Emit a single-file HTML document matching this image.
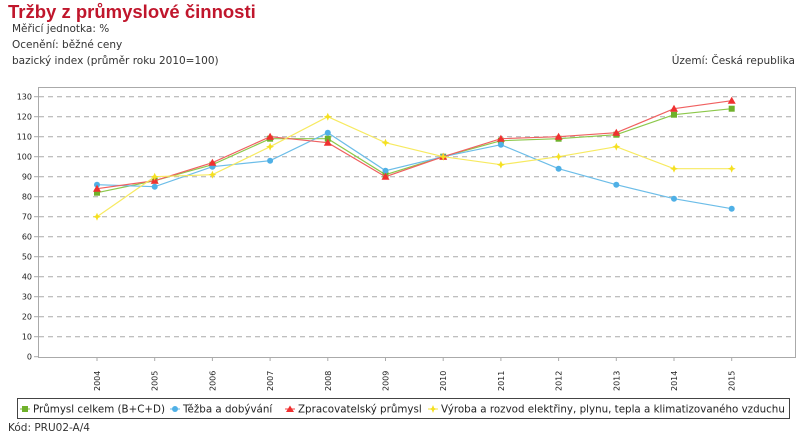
<!DOCTYPE html>
<html><head><meta charset="utf-8"><style>
body{margin:0;width:800px;height:438px;background:#fff;font-family:"DejaVu Sans","Liberation Sans",sans-serif;overflow:hidden}
</style></head><body>
<svg width="800" height="438" xmlns="http://www.w3.org/2000/svg" font-family="DejaVu Sans, Liberation Sans, sans-serif">
<text x="8" y="18" font-size="18.5" font-weight="bold" fill="#c0162c" font-family="Liberation Sans, sans-serif">Tržby z průmyslové činnosti</text>
<text x="12" y="32" font-size="10.5" fill="#333">Měřicí jednotka: %</text>
<text x="12" y="48" font-size="10.5" fill="#333">Ocenění: běžné ceny</text>
<text x="12" y="64" font-size="10.5" fill="#333">bazický index (průměr roku 2010=100)</text>
<text x="795" y="64" font-size="10.5" fill="#333" text-anchor="end">Území: Česká republika</text>
<rect x="38.5" y="87.5" width="757" height="270" fill="none" stroke="#aaa"/>
<g stroke="#aaa" stroke-dasharray="5,4" id="grid"></g>
<g font-size="8" fill="#222" text-anchor="end" id="yl"></g>
<g font-size="8" fill="#222" id="xl"></g>
<g id="series"></g>
<rect x="17.5" y="398.5" width="772" height="20" fill="none" stroke="#444"/>
<g font-size="10.3" fill="#222">
<line x1="20" y1="409" x2="30" y2="409" stroke="#7ab730"/><rect x="22" y="406" width="6" height="6" fill="#6fb12a"/>
<text x="33" y="412.5">Průmysl celkem (B+C+D)</text>
<line x1="170" y1="409" x2="180" y2="409" stroke="#5db4e4"/><circle cx="175" cy="409" r="3" fill="#4fb0e6"/>
<text x="183" y="412.5">Těžba a dobývání</text>
<line x1="285" y1="409" x2="295" y2="409" stroke="#f04040"/><polygon points="290,405.5 294,412 286,412" fill="#f03030"/>
<text x="298" y="412.5">Zpracovatelský průmysl</text>
<line x1="428" y1="409" x2="438" y2="409" stroke="#f5e43a"/><polygon points="433,405 434.2,408 437,409 434.2,410 433,413 431.8,410 429,409 431.8,408" fill="#f5e020"/>
<text x="441" y="412.5">Výroba a rozvod elektřiny, plynu, tepla a klimatizovaného vzduchu</text>
</g>
<text x="8" y="431" font-size="10.5" fill="#333">Kód: PRU02-A/4</text>
<script>
var ns="http://www.w3.org/2000/svg";
function el(t,a,p){var e=document.createElementNS(ns,t);for(var k in a)e.setAttribute(k,a[k]);document.getElementById(p).appendChild(e);return e;}
function Y(v){return 356.7-v*2.0}
function X(i){return 97+i*57.7}
for(var v=0;v<=130;v+=10){var y=Y(v);if(v>0)el("line",{x1:39,x2:795,y1:y,y2:y},"grid");el("line",{x1:34,x2:38,y1:y,y2:y,stroke:"#aaa"},"grid");var t=el("text",{x:32,y:y+3},"yl");t.textContent=v;}
for(var i=0;i<12;i++){var x=X(i);el("line",{x1:x,x2:x,y1:357,y2:361,stroke:"#aaa"},"grid");var t=el("text",{x:0,y:0,transform:"translate("+(x+3)+",391) rotate(-90)"},"xl");t.textContent=2004+i;}
var S=[
["#8cc84a","#6fb12a","sq",[82,88,96,109,109,91,100,108,109,111,121,124]],
["#6cbde8","#4fb0e6","ci",[86,85,95,98,112,93,100,106,94,86,79,74]],
["#f06060","#f03030","tr",[84,88,97,110,107,90,100,109,110,112,124,128]],
["#f7ea60","#f5e020","st",[70,90,91,105,120,107,100,96,100,105,94,94]]];
S.forEach(function(s){var p=s[3].map(function(v,i){return X(i)+","+Y(v)}).join(" ");
el("polyline",{points:p,fill:"none",stroke:s[0],"stroke-width":1.2},"series");
s[3].forEach(function(v,i){var x=X(i),y=Y(v);
if(s[2]=="sq")el("rect",{x:x-3,y:y-3,width:6,height:6,fill:s[1]},"series");
else if(s[2]=="ci")el("circle",{cx:x,cy:y,r:3,fill:s[1]},"series");
else if(s[2]=="tr")el("polygon",{points:x+","+(y-4)+" "+(x+4)+","+(y+3)+" "+(x-4)+","+(y+3),fill:s[1]},"series");
else el("polygon",{points:[x,y-4,x+1.2,y-1.2,x+4,y,x+1.2,y+1.2,x,y+4,x-1.2,y+1.2,x-4,y,x-1.2,y-1.2].join(" "),fill:s[1]},"series");});});
</script>
</svg>
</body></html>
